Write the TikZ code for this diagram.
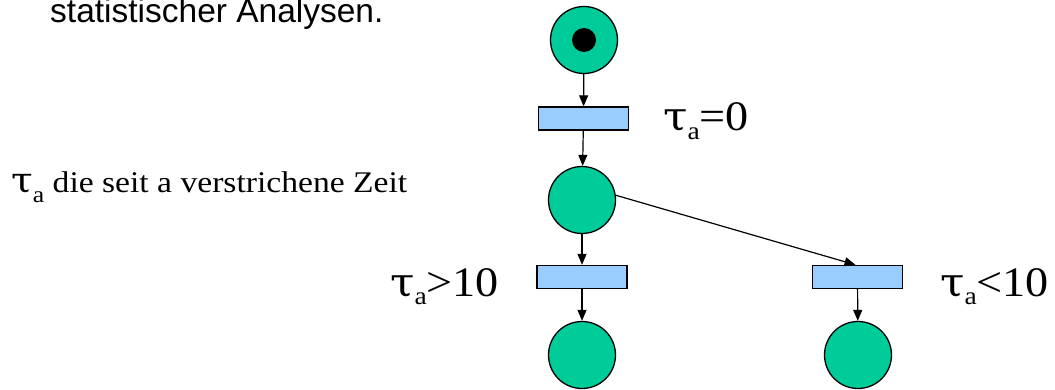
\documentclass[tikz,border=0pt]{standalone}
\usepackage{fontspec}
\usepackage{graphicx}
\setmainfont{Liberation Serif}
\newfontfamily\arialfont{Liberation Sans}
\newfontfamily\taufont{DejaVu Serif}
\usetikzlibrary{arrows.meta}
\definecolor{placegreen}{HTML}{00CC99}
\definecolor{transblue}{HTML}{99CCFF}
\tikzset{
  place/.style={circle,draw=black,line width=1.3pt,fill=placegreen,minimum size=67pt,inner sep=0pt},
  trans/.style={rectangle,draw=black,line width=1.3pt,fill=transblue,minimum width=90pt,minimum height=23pt,inner sep=0pt},
  token/.style={circle,fill=black,minimum size=24pt,inner sep=0pt},
  arc/.style={line width=1.2pt,-{Triangle[length=11pt,width=9pt]}},
  guard/.style={anchor=base west,inner sep=0pt,font=\fontsize{42}{42}\selectfont},
}
\newcommand{\tauA}{{\taufont\fontsize{40}{40}\selectfont τ}\raisebox{-0.2em}{\fontsize{25}{25}\selectfont a}}
\newcommand{\guardtext}[1]{\scalebox{1.1}[1]{#1}}
\begin{document}
\begin{tikzpicture}[x=1pt,y=-1pt]
\useasboundingbox (0,0) rectangle (1055,390);
\node[anchor=base west,inner sep=0pt,font=\arialfont\fontsize{33.5}{33.5}\selectfont] (txt) at (50,23) {statistischer Analysen.};
\node[anchor=base west,inner sep=0pt,font=\fontsize{30}{30}\selectfont] (expl) at (11,193) {\scalebox{1.12}[1]{{\taufont\fontsize{35}{35}\selectfont τ}\raisebox{-0.33em}{\fontsize{23}{23}\selectfont a} die seit a verstrichene Zeit}};
\node[place] (p1) at (584,40) {};
\node[token] (tok) at (584,40) {};
\node[trans] (t1) at (583.5,118.5) {};
\node[place] (p2) at (582,200) {};
\node[trans] (t2) at (582,277) {};
\node[trans] (t3) at (857.5,277) {};
\node[place] (p3) at (582,355) {};
\node[place] (p4) at (858,355) {};
\node[guard] (g1) at (663,131) {\guardtext{\tauA=0}};
\node[guard] (g2) at (390,296) {\guardtext{\tauA>10}};
\node[guard] (g3) at (940,296) {\guardtext{\tauA<10}};
\draw[arc] (p1) -- (t1);
\draw[arc] (t1) -- (p2);
\draw[arc] (p2) -- (t2);
\draw[arc] (t2) -- (p3);
\draw[arc] (t3) -- (p4);
\draw[arc] (p2.8) -- ([xshift=-2pt]t3.north);
\end{tikzpicture}
\end{document}
